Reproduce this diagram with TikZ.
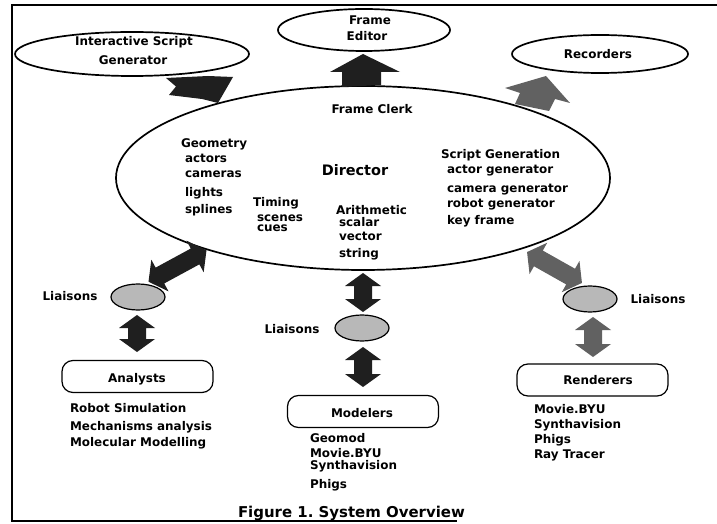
\documentclass[tikz,border=0pt]{standalone}
\usepackage{fontspec}
\setmainfont{DejaVu Sans}
\usetikzlibrary{shapes.geometric}
\newcommand\dblarr[4]{% #1 centre, #2 angle, #3 half length, #4 style
  \begin{scope}[shift={#1}, rotate=#2]
    \fill[#4] (-#3,0) -- (-#3+13,18) -- (-#3+13,9) -- (#3-13,9) -- (#3-13,18) -- (#3,0)
      -- (#3-13,-18) -- (#3-13,-9) -- (-#3+13,-9) -- (-#3+13,-18) -- cycle;
  \end{scope}}
\begin{document}
\begin{tikzpicture}[x=1bp,y=-1bp,
  every node/.style={inner sep=0pt, outer sep=0pt, font=\fontsize{12}{14}\selectfont\bfseries},
  oval/.style={ellipse, draw, line width=1.7bp, inner sep=0pt},
  liaison/.style={ellipse, draw, line width=1.2bp, fill=black!28, minimum width=54bp, minimum height=26bp},
  group/.style={draw, rounded corners=11bp, line width=1.2bp, minimum width=151bp, minimum height=32bp},
  txt/.style={anchor=base west},
  ctxt/.style={anchor=base},
  blk/.style={fill=black!88},
  gry/.style={fill=black!62},
  frameline/.style={line width=1.2bp}]
\useasboundingbox (0,0) rectangle (717,524);
\fill[white] (0,0) rectangle (717,524);
% frame
\draw[frameline] (717,5) -- (12,5) -- (12,521) -- (457,521);

% top ellipses
\node[oval, minimum width=234bp, minimum height=44bp] (isg) at (132,54) {};
\node[ctxt] (isg1) at (134,46) {Interactive Script};
\node[ctxt] (isg2) at (133,65) {Generator};

\node[oval, minimum width=172bp, minimum height=42bp] (fe) at (364,30) {};
\node[ctxt] (fe1) at (370,25) {Frame};
\node[ctxt] (fe2) at (367,41) {Editor};

\node[oval, minimum width=176bp, minimum height=38bp] (rec) at (600,54) {};
\node[ctxt] (rec1) at (598,59) {Recorders};

% big ellipse
\node[oval, minimum width=494bp, minimum height=184bp] (clerk) at (363,178) {};
\node[ctxt] (fc) at (372,114) {Frame Clerk};
\node[ctxt, font=\fontsize{14.5}{16}\selectfont\bfseries] (dir) at (355,176) {Director};

\node[txt] (g0) at (181,148) {Geometry};
\node[txt] (g1) at (185,163) {actors};
\node[txt] (g2) at (185,178) {cameras};
\node[txt] (g3) at (185,197) {lights};
\node[txt] (g4) at (185,214) {splines};

\node[txt] (t0) at (253,207) {Timing};
\node[txt] (t1) at (257,221.5) {scenes};
\node[txt] (t2) at (257,232) {cues};

\node[txt] (a0) at (336,215) {Arithmetic};
\node[txt] (a1) at (339,227) {scalar};
\node[txt] (a2) at (339,241) {vector};
\node[txt] (a3) at (339,258) {string};

\node[txt] (s0) at (441,159) {Script Generation};
\node[txt] (s1) at (447,173.5) {actor generator};
\node[txt] (s2) at (447,193) {camera generator};
\node[txt] (s3) at (447,208) {robot generator};
\node[txt] (s4) at (447,225) {key frame};

% top block arrows
\fill[blk] (166,78) -- (208,76) -- (233,77) -- (218,103) -- (202,99) -- (169,95) -- (176,86.5) -- cycle;
\fill[blk] (342,87) -- (342,72) -- (330,72) -- (363,54) -- (400,72) -- (381,72) -- (381,85) -- cycle;
\fill[gry] (505,88) -- (546,76) -- (570,103) -- (555,99) -- (549,111) -- (515,104) -- (520,93) -- cycle;

% liaisons
\node[liaison] (l1) at (138,297) {};
\node[anchor=base] (l1t) at (70,300) {Liaisons};
\node[liaison] (l2) at (362,328) {};
\node[anchor=base] (l2t) at (292,333) {Liaisons};
\node[liaison] (l3) at (590,299) {};
\node[anchor=base] (l3t) at (658,303) {Liaisons};

% double arrows
\dblarr{(177.5,266)}{28.5}{33}{blk}
\dblarr{(137,333.5)}{90}{18.5}{blk}
\dblarr{(363,292.5)}{90}{19.5}{blk}
\dblarr{(363,367)}{90}{20}{blk}
\dblarr{(554.5,267.5)}{-29.4}{31.5}{gry}
\dblarr{(593,337)}{90}{20}{gry}

% groups
\node[group] (an) at (137.5,376.5) {};
\node[ctxt] (ant) at (137,382) {Analysts};
\node[txt] (an1) at (70,412) {Robot Simulation};
\node[txt] (an2) at (70,430) {Mechanisms analysis};
\node[txt] (an3) at (70,446) {Molecular Modelling};

\node[group] (mo) at (363,411.5) {};
\node[ctxt] (mot) at (362,417) {Modelers};
\node[txt] (mo1) at (310,442) {Geomod};
\node[txt] (mo2) at (310,457) {Movie.BYU};
\node[txt] (mo3) at (310,469) {Synthavision};
\node[txt] (mo4) at (310,488) {Phigs};

\node[group] (re) at (592.5,380) {};
\node[ctxt] (ret) at (598,384) {Renderers};
\node[txt] (re1) at (534,413.5) {Movie.BYU};
\node[txt] (re2) at (534,428.5) {Synthavision};
\node[txt] (re3) at (534,443.5) {Phigs};
\node[txt] (re4) at (534,458.5) {Ray Tracer};

% caption
\node[txt, font=\fontsize{15}{17}\selectfont\bfseries] (cap) at (238,517) {Figure 1.\ System Overview};
\end{tikzpicture}
\end{document}
